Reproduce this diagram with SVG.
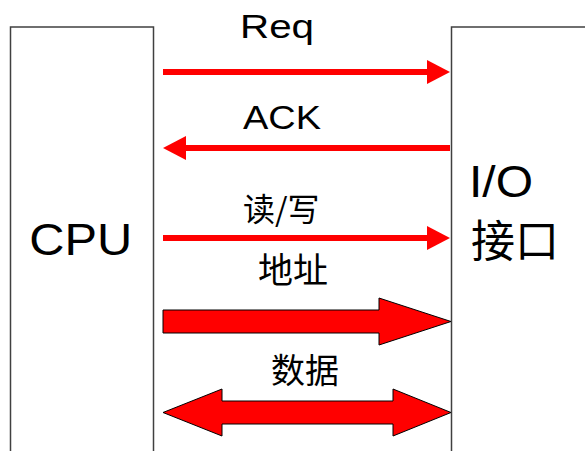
<svg xmlns="http://www.w3.org/2000/svg" width="585" height="451" viewBox="0 0 585 451">
<style>
.box{fill:#fff;stroke:#404040;stroke-width:1.5}
.lat{font-family:"Liberation Sans",Arial,sans-serif;fill:#000}
.cjk{font-family:"Noto Sans CJK SC","Liberation Sans",sans-serif;fill:#000}
.thin{stroke:#ff0000;stroke-width:6;fill:none;marker-end:url(#head)}
.fat{fill:#ff0000;stroke:#000;stroke-width:1}
</style>
<defs>
<marker id="head" markerUnits="userSpaceOnUse" markerWidth="24" markerHeight="24" viewBox="0 0 24 24" refX="3" refY="12" orient="auto">
<path d="M0,0 L23,12 L0,24 z" fill="#ff0000"/>
</marker>
</defs>
<rect width="585" height="451" fill="#fff"/>
<g id="cpu">
<rect class="box" x="10.5" y="27" width="143" height="450"/>
<text class="lat" x="29.3" y="255" font-size="44" textLength="103" lengthAdjust="spacingAndGlyphs">CPU</text>
</g>
<g id="io">
<rect class="box" x="451.5" y="27" width="200" height="450"/>
<text class="lat" x="469" y="196.7" font-size="44" textLength="64" lengthAdjust="spacingAndGlyphs">I/O</text>
<text class="cjk" x="471" y="257" font-size="44">接口</text>
</g>
<g id="connectors">
<g id="req">
<line class="thin" x1="163" y1="72" x2="430" y2="72"/>
<text class="lat" x="240" y="38.3" font-size="33" textLength="74" lengthAdjust="spacingAndGlyphs">Req</text>
</g>
<g id="ack">
<line class="thin" x1="450" y1="148" x2="183" y2="148"/>
<text class="lat" x="243" y="129.3" font-size="33" textLength="78" lengthAdjust="spacingAndGlyphs">ACK</text>
</g>
<g id="rw">
<line class="thin" x1="163" y1="238" x2="430" y2="238"/>
<text class="cjk" x="243" y="221" font-size="32">读/写</text>
</g>
<g id="addr">
<polygon class="fat" points="163,310 379,310 379,298 451,321.5 379,345 379,333 163,333"/>
<text class="cjk" x="258" y="283" font-size="35">地址</text>
</g>
<g id="data">
<polygon class="fat" points="163,412.5 222,389 222,401 393,401 393,389 451,412.5 393,436 393,424 222,424 222,436"/>
<text class="cjk" x="271" y="383" font-size="34">数据</text>
</g>
</g>
</svg>
